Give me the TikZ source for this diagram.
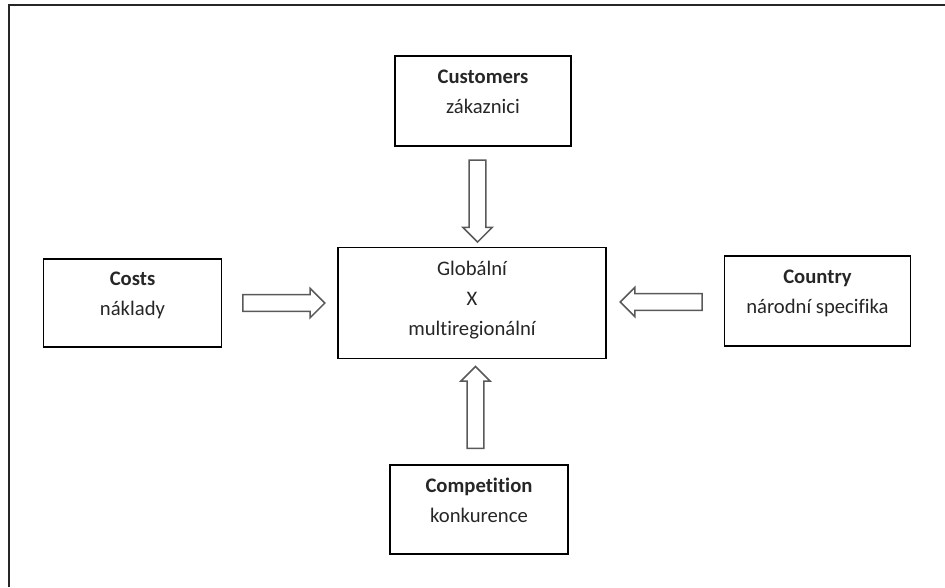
\documentclass[tikz,border=0pt]{standalone}
\usepackage{fontspec}
\setmainfont[Ligatures=NoCommon]{Carlito}
\usetikzlibrary{shapes.arrows, positioning, calc}

\begin{document}
\begin{tikzpicture}[x=0.75pt, y=-0.75pt]
        \tikzstyle{every node} = [font=\fontsize{15.5}{22.5}\selectfont]
        \tikzstyle{box} = [draw, line width=0.8pt, inner sep=0pt, minimum width=133pt, minimum height=67pt]
        \tikzstyle{txt} = [inner sep=0pt, align=center, text=black!85]
        \tikzstyle{blk} = [single arrow, draw=black!65, line width=1.1pt, inner sep=5.75pt,
                minimum height=61.5pt, single arrow head extend=4.75pt, single arrow tip angle=90]

        \def\rowtop{101}
        \def\rowmid{303}
        \def\rowbot{509.5}

        \useasboundingbox (0,0) rectangle (945,587);
        \draw[line width=1.5pt, black!85] (9,587) -- (9,5) -- (945,5);

        % boxes
        \node[box, minimum width=132pt, minimum height=67.5pt] (customers) at (483,\rowtop) {};
        \node[box, minimum width=201pt, minimum height=83pt] (glob) at (472,\rowmid) {};
        \node[box, minimum width=133pt, minimum height=66pt] (costs) at (132.5,\rowmid) {};
        \node[box, minimum width=139pt, minimum height=67.5pt] (country) at (817.5,301) {};
        \node[box, minimum width=133.5pt, minimum height=66.75pt] (competition) at (479,\rowbot) {};

        % texts
        \node[txt, below=10.5pt of customers.north] {\textbf{Customers}\\zákaznici};
        \node[txt, below=10pt of glob.north] {Globální\\X\\multiregionální};
        \node[txt, below=10pt of costs.north] {\textbf{Costs}\\náklady};
        \node[txt, below=10.5pt of country.north] {\textbf{Country}\\národní specifika};
        \node[txt, below=10pt of competition.north] {\textbf{Competition}\\konkurence};

        % arrows
        \node[blk] (costsarr) at ($(costs.east)!0.5!(glob.west)$) {};
        \node[blk, shape border rotate=180] (countryarr) at ($(country.west)!0.5!(glob.east)$) {};
        \node[blk, shape border rotate=270] (customersarr) at ($(customers.south)!0.5!(glob.north)$) {};
        \node[blk, shape border rotate=90] (competitionarr) at ($(competition.north)!0.5!(glob.south)$) {};
\end{tikzpicture}
\end{document}
